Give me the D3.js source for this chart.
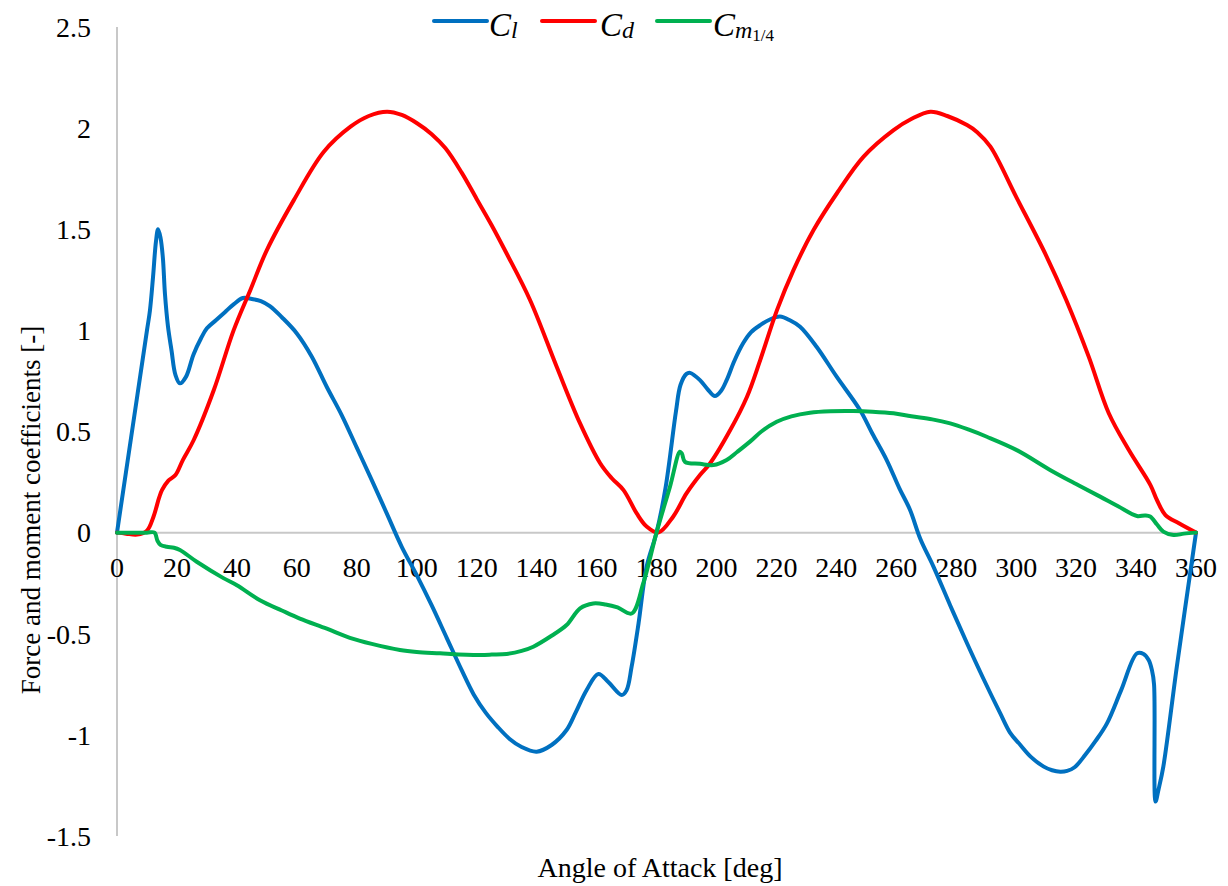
<!DOCTYPE html>
<html>
<head>
<meta charset="utf-8">
<script src="https://cdn.jsdelivr.net/npm/d3@7"></script>
<style>
  html, body { margin: 0; padding: 0; background: #fff; }
  svg { display: block; }
  text { font-family: "Liberation Serif", "Times New Roman", serif; fill: #000; }
</style>
</head>
<body>
<svg id="chart" width="1228" height="886"></svg>
<script>
// ---- Data ----
const clAngles = [0, 5, 10, 11, 12, 13, 13.7, 14.5, 15.3, 16, 17, 18.2, 19.5, 21, 23, 25.5, 28, 30, 33, 36, 39, 42, 45, 48, 51, 55, 60, 65, 70, 75, 80, 85, 90, 95, 100, 105, 110, 115, 119, 123, 127, 131, 135, 140, 145, 150, 153, 156.7, 160.6, 164, 168.4, 170, 171.7, 174, 176.7, 180, 183, 186.5, 188, 190, 191.2, 194.5, 197, 199.5, 201.5, 203.4, 206, 208.9, 211.5, 214.6, 218, 221.2, 224.5, 227.9, 233.4, 240.1, 247.9, 252, 256.8, 261, 264.6, 268, 272.4, 278, 283.6, 289, 294.7, 298, 301.4, 305, 309.2, 312, 314.7, 317, 319.5, 323, 326.5, 330.3, 335, 340.3, 342.5, 344.2, 345.3, 346, 346.5, 347.5, 349.1, 353.6, 360];
const clValues = [0, 0.5, 1.0, 1.1, 1.26, 1.44, 1.50, 1.46, 1.36, 1.18, 1.02, 0.90, 0.78, 0.738, 0.77, 0.88, 0.96, 1.01, 1.05, 1.09, 1.13, 1.16, 1.155, 1.145, 1.12, 1.065, 0.985, 0.87, 0.72, 0.58, 0.42, 0.26, 0.095, -0.07, -0.21, -0.36, -0.52, -0.68, -0.80, -0.89, -0.96, -1.02, -1.06, -1.083, -1.05, -0.976, -0.89, -0.778, -0.699, -0.74, -0.803, -0.78, -0.663, -0.45, -0.168, 0, 0.22, 0.60, 0.73, 0.785, 0.79, 0.754, 0.71, 0.675, 0.70, 0.754, 0.85, 0.936, 0.99, 1.026, 1.055, 1.068, 1.05, 1.018, 0.919, 0.771, 0.606, 0.49, 0.359, 0.22, 0.112, -0.03, -0.168, -0.36, -0.547, -0.72, -0.894, -0.99, -1.05, -1.11, -1.157, -1.175, -1.182, -1.178, -1.16, -1.10, -1.03, -0.943, -0.78, -0.597, -0.60, -0.63, -0.68, -0.75, -1.33, -1.27, -1.157, -0.663, 0];

const cdAngles = [0, 3, 6.7, 10, 12.2, 14, 15, 17, 19.5, 22, 25.6, 32.3, 38.9, 44.5, 50, 59, 69, 77.9, 84, 90.1, 95, 100.1, 105, 109.6, 115, 120, 125, 130, 137.8, 146.7, 154.5, 161.2, 165, 169, 173.4, 176.7, 180.6, 185.6, 190, 194.5, 197.9, 204.6, 210.2, 214.6, 220.2, 225.7, 232.4, 240.2, 249.1, 259.1, 265, 271.4, 277, 283.6, 287, 291.4, 300, 310, 316.7, 324.2, 330.9, 337.6, 344.8, 347, 349.8, 354.3, 360];
const cdValues = [0, -0.005, -0.01, 0.01, 0.08, 0.17, 0.21, 0.255, 0.285, 0.36, 0.458, 0.705, 1.0, 1.2, 1.397, 1.644, 1.883, 2.007, 2.06, 2.081, 2.065, 2.024, 1.97, 1.90, 1.78, 1.65, 1.52, 1.38, 1.15, 0.82, 0.54, 0.343, 0.27, 0.21, 0.095, 0.03, 0, 0.08, 0.194, 0.285, 0.343, 0.507, 0.672, 0.853, 1.10, 1.298, 1.496, 1.678, 1.859, 1.99, 2.045, 2.081, 2.06, 2.015, 1.98, 1.908, 1.66, 1.37, 1.15, 0.87, 0.59, 0.408, 0.235, 0.16, 0.087, 0.046, 0];

const cmAngles = [0, 5, 10, 12.5, 13.5, 14.5, 16.6, 19, 21, 26.6, 35.5, 40, 47.7, 55, 61, 70, 77.7, 85, 94.4, 100, 107.8, 114, 118.9, 125, 130, 135, 138.9, 145, 150, 154.5, 158.9, 163, 167, 171.7, 175.6, 180, 184.5, 187.8, 188.5, 189.5, 194.5, 199, 203.4, 207, 211.2, 215, 220.1, 225, 231.2, 238, 245.7, 252, 259.1, 265, 272, 278, 284, 290.2, 300.2, 311.3, 320, 328, 334, 340.3, 343, 344.7, 347, 349.1, 352.5, 356, 360];
const cmValues = [0, 0, 0, 0, -0.04, -0.06, -0.07, -0.075, -0.086, -0.144, -0.225, -0.26, -0.334, -0.385, -0.425, -0.475, -0.52, -0.55, -0.58, -0.59, -0.597, -0.603, -0.605, -0.603, -0.60, -0.585, -0.564, -0.51, -0.457, -0.374, -0.35, -0.355, -0.37, -0.40, -0.25, 0, 0.227, 0.40, 0.39, 0.35, 0.34, 0.334, 0.359, 0.40, 0.45, 0.50, 0.548, 0.575, 0.593, 0.60, 0.601, 0.598, 0.59, 0.575, 0.56, 0.54, 0.51, 0.474, 0.408, 0.31, 0.24, 0.178, 0.13, 0.082, 0.085, 0.08, 0.04, 0.005, -0.012, -0.005, 0];

const xTicks = [0, 20, 40, 60, 80, 100, 120, 140, 160, 180, 200, 220, 240, 260, 280, 300, 320, 340, 360];
const yTicks = [-1.5, -1, -0.5, 0, 0.5, 1, 1.5, 2, 2.5];
const yTickLabels = ["-1.5", "-1", "-0.5", "0", "0.5", "1", "1.5", "2", "2.5"];

const seriesNames = ["Cl", "Cd", "Cm"];
const seriesColors = ["#0070C0", "#FF0000", "#00B050"];

// ---- Drawing ----
const svg = d3.select("#chart");
const x = d3.scaleLinear().domain([0, 360]).range([117, 1196]);
const y = d3.scaleLinear().domain([-1.5, 2.5]).range([836, 27]);

svg.append("line")
  .attr("x1", x(0)).attr("x2", x(0))
  .attr("y1", y(2.5)).attr("y2", y(-1.5))
  .attr("stroke", "#C8C8C8").attr("stroke-width", 2);
svg.append("line")
  .attr("x1", x(0)).attr("x2", x(360))
  .attr("y1", y(0)).attr("y2", y(0))
  .attr("stroke", "#C8C8C8").attr("stroke-width", 2);

svg.append("g").selectAll("text").data(yTicks).join("text")
  .attr("x", 91).attr("y", d => y(d))
  .attr("dy", "0.35em")
  .attr("text-anchor", "end")
  .attr("font-size", 28)
  .text((d, i) => yTickLabels[i]);

svg.append("g").selectAll("text").data(xTicks).join("text")
  .attr("x", d => x(d)).attr("y", 577)
  .attr("text-anchor", "middle")
  .attr("font-size", 28)
  .text(d => d);

const series = [
  { a: clAngles, v: clValues },
  { a: cdAngles, v: cdValues },
  { a: cmAngles, v: cmValues }
];
const line = d3.line().x(d => x(d[0])).y(d => y(d[1])).curve(d3.curveCatmullRom.alpha(0.5));
series.forEach((s, i) => {
  const pts = s.a.map((a, j) => [a, s.v[j]]);
  svg.append("path")
    .datum(pts)
    .attr("d", line)
    .attr("fill", "none")
    .attr("stroke", seriesColors[i])
    .attr("stroke-width", 4)
    .attr("stroke-linejoin", "round")
    .attr("stroke-linecap", "round");
});

svg.append("text")
  .attr("x", 660).attr("y", 877)
  .attr("text-anchor", "middle")
  .attr("font-size", 28)
  .text("Angle of Attack [deg]");
svg.append("text")
  .attr("transform", "translate(40,510) rotate(-90)")
  .attr("text-anchor", "middle")
  .attr("font-size", 27)
  .text("Force and moment coefficients [-]");

const legendItems = [
  { x1: 434, x2: 487, tx: 489, main: "C", sub: "l" },
  { x1: 542, x2: 595, tx: 600, main: "C", sub: "d" },
  { x1: 657, x2: 710, tx: 713, main: "C", sub: "m", sub2: "1/4" }
];
legendItems.forEach((it, i) => {
  svg.append("line")
    .attr("x1", it.x1).attr("x2", it.x2)
    .attr("y1", 21).attr("y2", 21)
    .attr("stroke", seriesColors[i]).attr("stroke-width", 4)
    .attr("stroke-linecap", "round");
  const t = svg.append("text")
    .attr("x", it.tx).attr("y", 36)
    .attr("font-size", 33)
    .attr("font-style", "italic");
  t.append("tspan").text(it.main);
  t.append("tspan").attr("font-size", 24).attr("dy", 2).text(it.sub);
  if (it.sub2) {
    t.append("tspan").attr("font-size", 17).attr("font-style", "normal").attr("dy", 3).text(it.sub2);
  }
});
</script>
</body>
</html>
